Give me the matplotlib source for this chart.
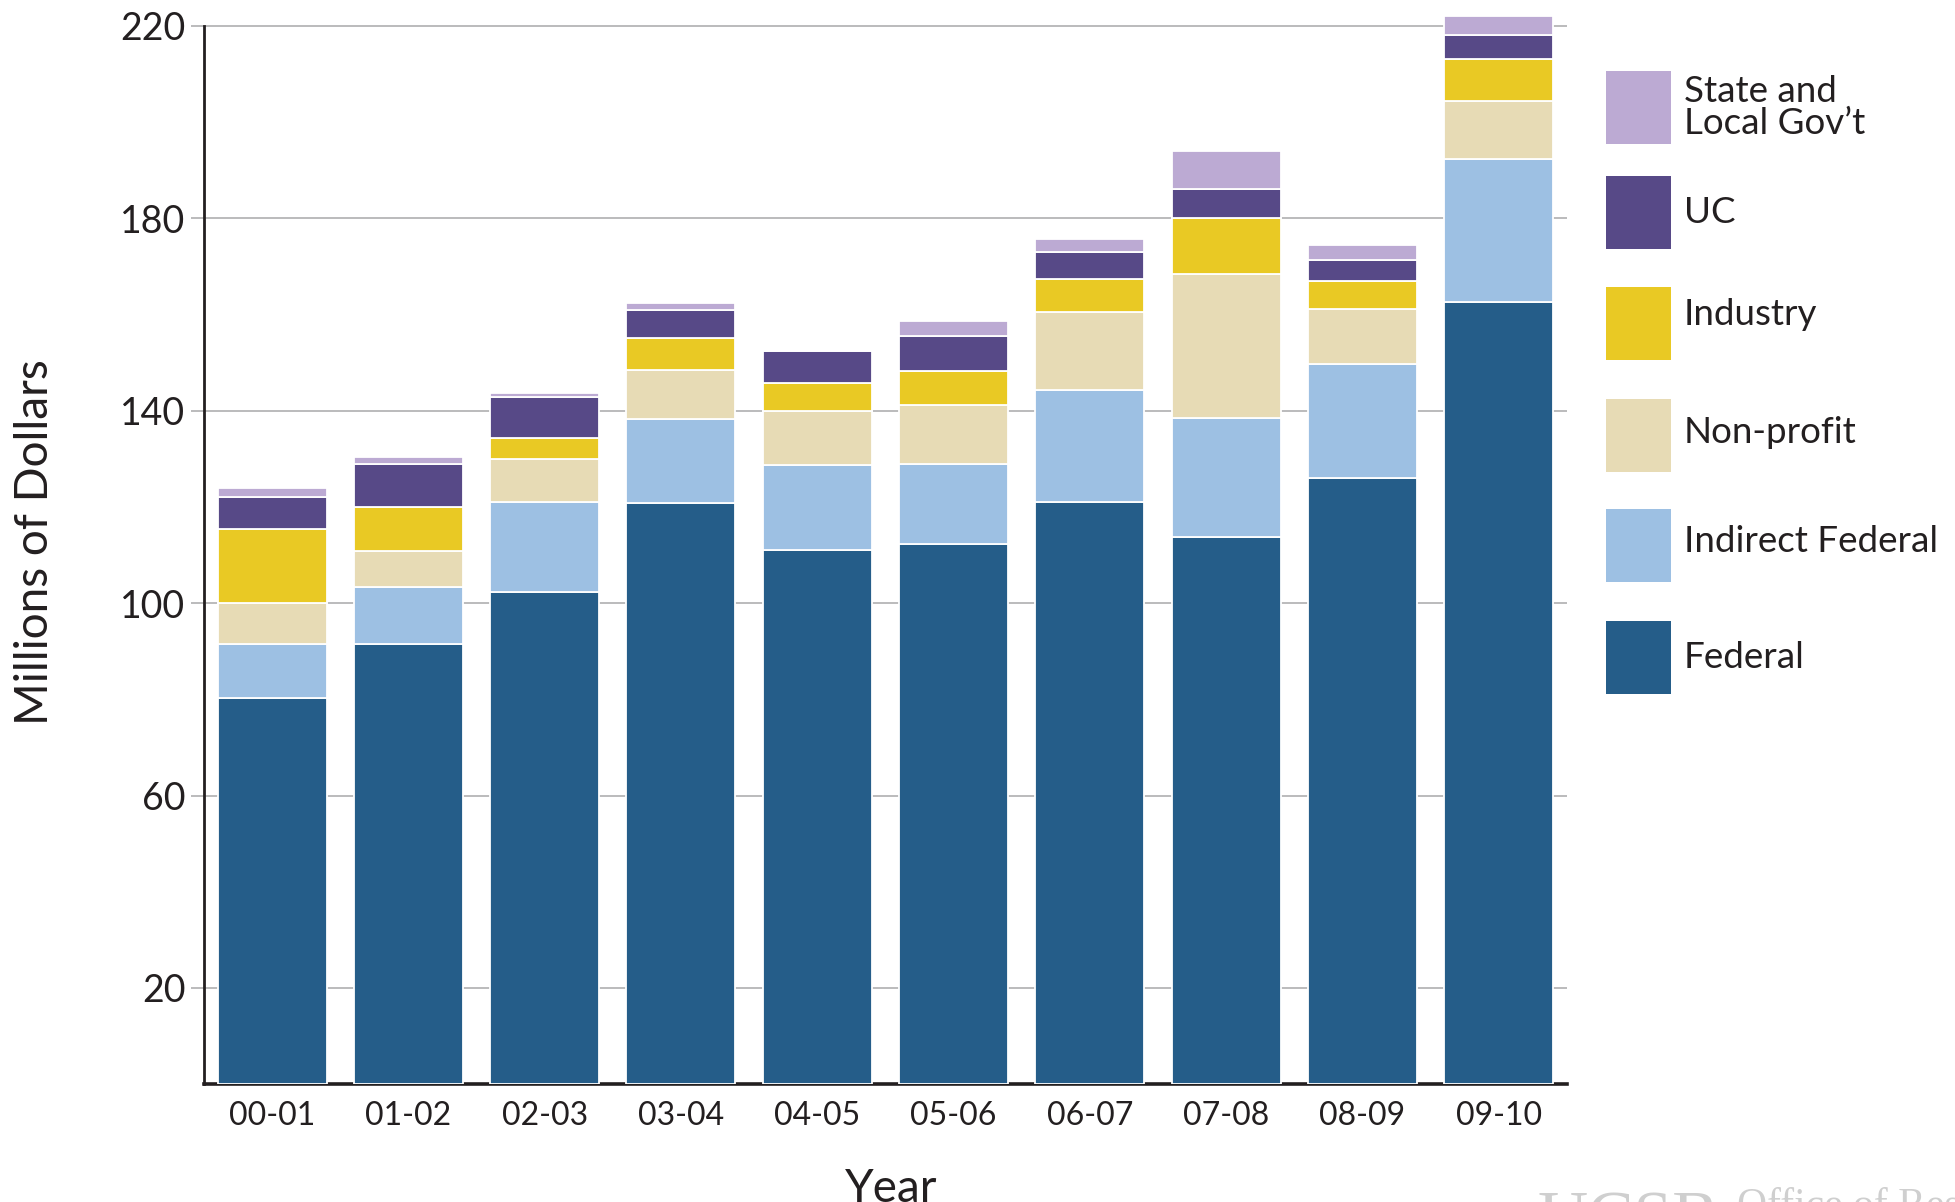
import matplotlib
matplotlib.use("Agg")
import matplotlib.pyplot as plt
from matplotlib.patches import Rectangle
import numpy as np

years = ["00-01", "01-02", "02-03", "03-04", "04-05", "05-06", "06-07", "07-08", "08-09", "09-10"]
federal = [80.2, 91.4, 102.2, 120.8, 111.1, 112.2, 121.1, 113.7, 126.0, 162.5]
indirect_federal = [11.2, 11.9, 18.9, 17.4, 17.5, 16.7, 23.2, 24.8, 23.7, 29.7]
non_profit = [8.6, 7.5, 8.8, 10.2, 11.4, 12.2, 16.1, 30.0, 11.5, 12.1]
industry = [15.5, 9.2, 4.4, 6.8, 5.8, 7.1, 6.9, 11.6, 5.7, 8.7]
uc = [6.6, 8.9, 8.5, 5.8, 6.6, 7.4, 5.7, 5.9, 4.4, 5.1]
state_local = [1.8, 1.4, 0.8, 1.3, 0.0, 3.1, 2.6, 8.0, 3.1, 3.9]

series_names = ["Federal", "Indirect Federal", "Non-profit", "Industry", "UC", "State and\nLocal Gov\u2019t"]
series_values = [federal, indirect_federal, non_profit, industry, uc, state_local]
colors = ["#255d89", "#9dc0e3", "#e7dbb5", "#e9c924", "#574987", "#bcaad3"]
y_ticks = [20, 60, 100, 140, 180, 220]

TXT = "#231f20"
plt.rcParams["font.family"] = ["Lato", "DejaVu Sans"]

fig = plt.figure(figsize=(19.56, 12.02), dpi=100)
ax = fig.add_axes([0.1043, 0.098, 0.8010 - 0.1043, 0.9906 - 0.098])

x = np.arange(len(years))
bottom = np.zeros(len(years))
for vals, col in zip(series_values, colors):
    v = np.array(vals)
    ax.bar(x, v, bottom=bottom, width=0.8, color=col, edgecolor="white",
           linewidth=1.3, zorder=3)
    bottom += v

ax.set_xlim(-0.5, len(years) - 0.5)
ax.set_ylim(0, 223)
ax.set_yticks(y_ticks)
ax.set_yticklabels([str(t) for t in y_ticks], fontsize=27, color=TXT)
ax.set_xticks(x)
ax.set_xticklabels(years, fontsize=23, color=TXT)
ax.tick_params(axis="x", length=0, pad=12)
ax.tick_params(axis="y", length=9.5, width=1.4, color="#bbbbbc", pad=4)
ax.yaxis.grid(True, color="#bbbbbc", linewidth=1.4, zorder=0)
ax.set_axisbelow(True)

for s in ["top", "right"]:
    ax.spines[s].set_visible(False)
ax.spines["left"].set_bounds(0, 220)
ax.spines["left"].set_color(TXT)
ax.spines["left"].set_linewidth(2.0)
ax.spines["bottom"].set_color(TXT)
ax.spines["bottom"].set_linewidth(2.6)
ax.spines["bottom"].set_zorder(2.5)

fig.text(0.018, 0.549, "Millions of Dollars", rotation=90, ha="center", va="center",
         fontsize=33, color=TXT)
fig.text(0.4557, 0.028, "Year", ha="center", va="top", fontsize=33, color=TXT)

# watermark (cut off at bottom edge in the original)
fig.text(0.786, 0.009, "UCSB", ha="left", va="top", fontsize=50, color="#cfcfcf",
         family=["Liberation Serif", "DejaVu Serif"])
fig.text(0.888, 0.012, "Office of Research", ha="left", va="top", fontsize=30,
         color="#cfcfcf", family=["Liberation Serif", "DejaVu Serif"])

# legend (top to bottom)
W, H = 1956.0, 1202.0
leg_x = 1606.0
sq_w, sq_h = 65.0, 73.0
tops = [71, 176, 287, 399, 509, 621]
text_x = 1684.0
text_dy = [0, 0, -9, -3, -4, 0]
for i, idx in enumerate(range(len(series_names) - 1, -1, -1)):
    top = tops[i]
    fig.patches.append(Rectangle((leg_x / W, 1 - (top + sq_h) / H), sq_w / W, sq_h / H,
                                 transform=fig.transFigure, facecolor=colors[idx],
                                 edgecolor="none"))
    cy = top + sq_h / 2 + text_dy[i]
    fig.text(text_x / W, 1 - cy / H, series_names[idx], ha="left", va="center",
             fontsize=26.5, color=TXT, linespacing=0.95)

fig.savefig("out.png", dpi=100, facecolor="white")
